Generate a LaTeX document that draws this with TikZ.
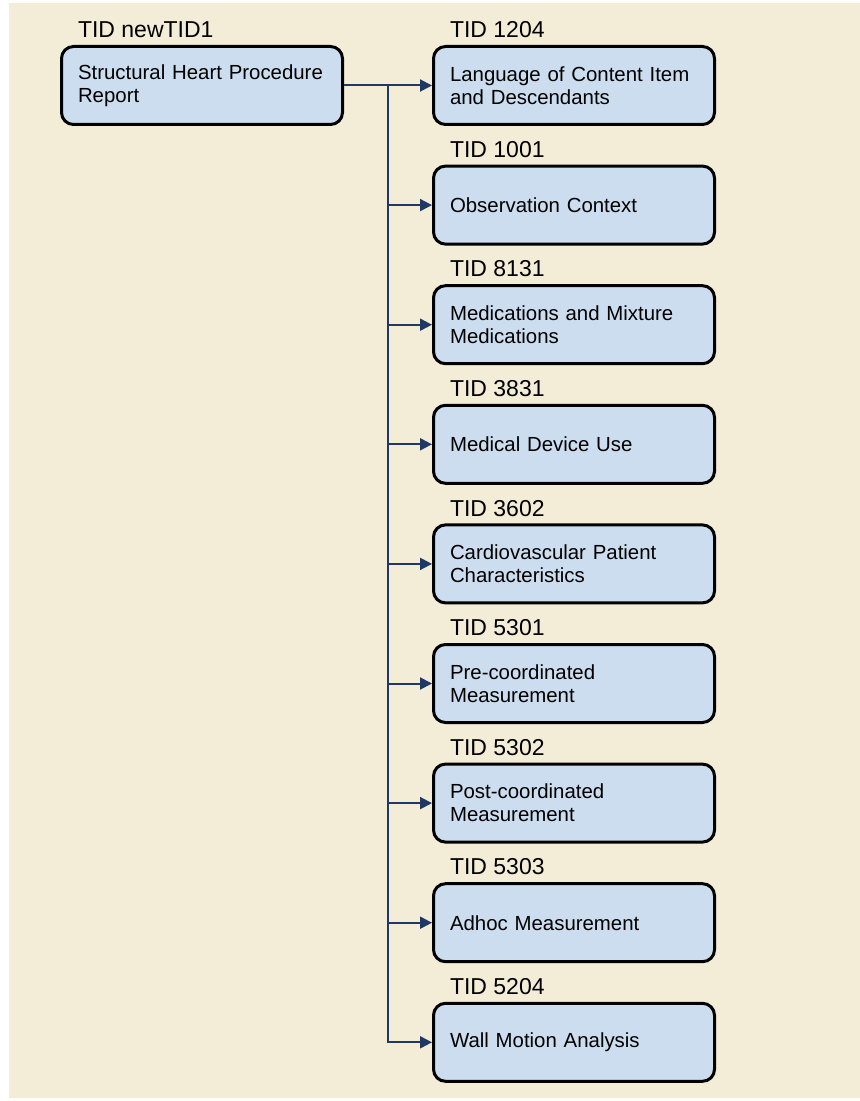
\documentclass[tikz,border=0pt]{standalone}
\usepackage{fontspec}
\setsansfont{Liberation Sans}
\usepackage{tikz}
\usetikzlibrary{arrows.meta,positioning}
\definecolor{cPage}{HTML}{F3ECD7}
\definecolor{cBox}{HTML}{CCDDEF}
\definecolor{cLink}{HTML}{1F3864}
\definecolor{cInk}{HTML}{000000}
\tikzset{
  font=\sffamily,
  tbox/.style={rounded corners=6pt, draw=cInk, line width=1.5pt, fill=cBox, align=left, font=\sffamily\fontsize{10.2pt}{11.4pt}\selectfont, text width=124pt, minimum width=140.5pt, minimum height=39pt, inner xsep=8.25pt, inner ysep=2pt},
  tid/.style={inner sep=0pt, outer sep=0pt, font=\sffamily\fontsize{11.5pt}{13pt}\selectfont},
  flow/.style={-{Triangle[length=6pt, width=6pt]}, line width=1pt, draw=cLink},
}
\begin{document}
\begin{tikzpicture}[node distance=19.3pt]
\useasboundingbox (0,0) rectangle (430pt,-550.5pt);
\fill[cPage] (4.5pt,-1.5pt) rectangle (430pt,-549pt);
\node[tbox, anchor=north west] (root) at (30pt,-22.5pt) {Structural Heart Procedure\\Report};
\node[tbox, right=44pt of root] (t1204) {Language of Content Item\\and Descendants};
\node[tbox, below=of t1204] (t1001) {Observation Context};
\node[tbox, below=of t1001] (t8131) {Medications and Mixture\\Medications};
\node[tbox, below=of t8131] (t3831) {Medical Device Use};
\node[tbox, below=of t3831] (t3602) {Cardiovascular Patient\\Characteristics};
\node[tbox, below=of t3602] (t5301) {Pre-coordinated\\Measurement};
\node[tbox, below=of t5301] (t5302) {Post-coordinated\\Measurement};
\node[tbox, below=of t5302] (t5303) {Adhoc Measurement};
\node[tbox, below=of t5303] (t5204) {Wall Motion Analysis};
% template ids
\node[tid, above right=3.5pt and 9pt of root.north west] (lroot) {TID newTID1};
\node[tid, above right=3.5pt and 9pt of t1204.north west] (l1204) {TID 1204};
\node[tid, above right=3.5pt and 9pt of t1001.north west] (l1001) {TID 1001};
\node[tid, above right=3.5pt and 9pt of t8131.north west] (l8131) {TID 8131};
\node[tid, above right=3.5pt and 9pt of t3831.north west] (l3831) {TID 3831};
\node[tid, above right=3.5pt and 9pt of t3602.north west] (l3602) {TID 3602};
\node[tid, above right=3.5pt and 9pt of t5301.north west] (l5301) {TID 5301};
\node[tid, above right=3.5pt and 9pt of t5302.north west] (l5302) {TID 5302};
\node[tid, above right=3.5pt and 9pt of t5303.north west] (l5303) {TID 5303};
\node[tid, above right=3.5pt and 9pt of t5204.north west] (l5204) {TID 5204};
% links
\coordinate[right=22pt of root.east] (jn);
\draw[flow](root.east)--(jn)|-(t1204.west);
\draw[flow](root.east)--(jn)|-(t1001.west);
\draw[flow](root.east)--(jn)|-(t8131.west);
\draw[flow](root.east)--(jn)|-(t3831.west);
\draw[flow](root.east)--(jn)|-(t3602.west);
\draw[flow](root.east)--(jn)|-(t5301.west);
\draw[flow](root.east)--(jn)|-(t5302.west);
\draw[flow](root.east)--(jn)|-(t5303.west);
\draw[flow](root.east)--(jn)|-(t5204.west);
\end{tikzpicture}
\end{document}
